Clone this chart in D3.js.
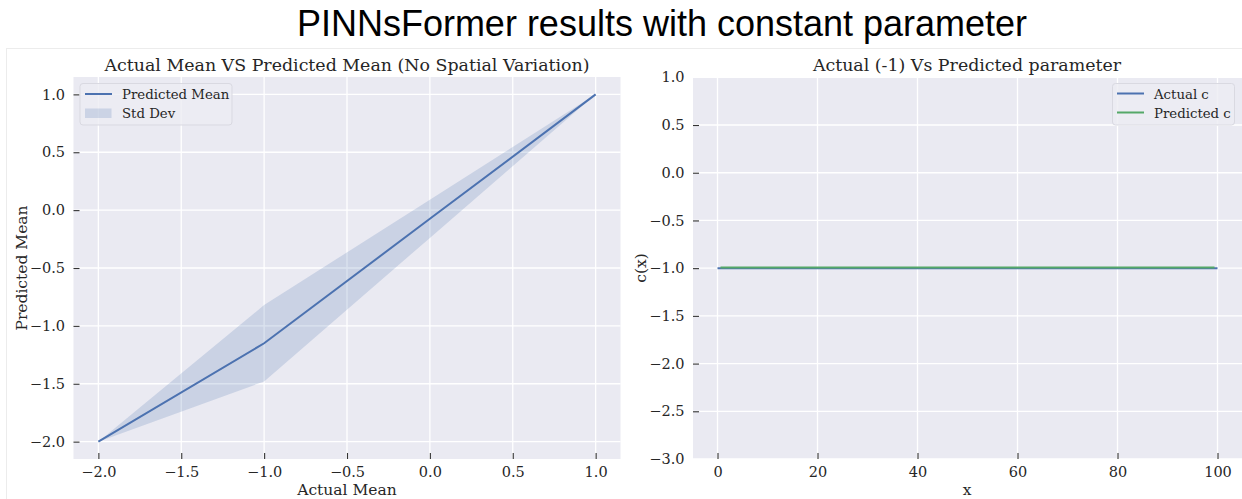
<!DOCTYPE html>
<html>
<head>
<meta charset="utf-8">
<script src="https://cdn.jsdelivr.net/npm/d3@7"></script>
<style>
  html, body { margin: 0; padding: 0; background: #ffffff; }
  svg { display: block; }
  text { font-family: "DejaVu Serif", serif; fill: #262626; }
</style>
</head>
<body>
<script>
// Mean / std comparison (left panel)
const actualMean = [-2.0, -1.0, 0.0, 1.0];
const predictedMean = [-2.0, -1.15, -0.075, 1.0];
const predictedStd = [0.0, 0.33, 0.165, 0.0];
const meanTicks = [-2.0, -1.5, -1.0, -0.5, 0.0, 0.5, 1.0];

// Parameter recovery (right panel)
const xActual = [0, 100];
const cActual = [-1.0, -1.0];
const xPredicted = [0.6, 99.4];
const cPredicted = [-0.992, -0.992];
const xTicks = [0, 20, 40, 60, 80, 100];
const cTicks = [1.0, 0.5, 0.0, -0.5, -1.0, -1.5, -2.0, -2.5, -3.0];

const W = 1242, H = 499;
const BG = "#eaeaf2", BLUE = "#4c72b0", GREEN = "#55a868";
const fmt = d => d3.format(".1f")(d).replace("-", "\u2212");

const svg = d3.select("body").append("svg").attr("width", W).attr("height", H);

// figure frame
svg.append("rect").attr("x", 6.5).attr("y", 48.5).attr("width", W).attr("height", H)
  .attr("fill", "none").attr("stroke", "#ececec");

svg.append("text").attr("x", 662).attr("y", 36).attr("text-anchor", "middle")
  .style("font-family", "'Liberation Sans', Arial, sans-serif")
  .style("font-size", "36px").style("fill", "#000")
  .text("PINNsFormer results with constant parameter");

function panel(box, x, y, xt, yt, xf, yf, opts) {
  const g = svg.append("g");
  g.append("rect").attr("x", box.l).attr("y", box.t)
    .attr("width", box.r - box.l).attr("height", box.b - box.t).attr("fill", BG);
  // grid
  g.selectAll(".gx").data(xt).join("line")
    .attr("x1", d => x(d)).attr("x2", d => x(d)).attr("y1", box.t).attr("y2", box.b)
    .attr("stroke", "#fff").attr("stroke-width", 1.3);
  g.selectAll(".gy").data(yt).join("line")
    .attr("y1", d => y(d)).attr("y2", d => y(d)).attr("x1", box.l).attr("x2", box.r)
    .attr("stroke", "#fff").attr("stroke-width", 1.3);
  // axes (ticks pointing inward)
  const ax = g.append("g").attr("transform", `translate(0,${box.b})`)
    .call(d3.axisBottom(x).tickValues(xt).tickFormat(xf).tickSize(-6).tickPadding(8));
  const ay = g.append("g").attr("transform", `translate(${box.l},0)`)
    .call(d3.axisLeft(y).tickValues(yt).tickFormat(yf).tickSize(-6).tickPadding(8.5));
  [ax, ay].forEach(a => {
    a.select(".domain").remove();
    a.selectAll(".tick line").attr("stroke", "#333").attr("stroke-width", 1.1);
    a.selectAll(".tick text").style("font-family", "'DejaVu Serif', serif")
      .style("font-size", "14.5px").attr("fill", "#262626");
  });
  if (opts && opts.hideEndY) {
    const [lo, hi] = y.domain();
    ay.selectAll(".tick line").filter(d => d === lo || d === hi).remove();
  }
  return g;
}

// ---------- left panel ----------
const L = {l: 73.5, r: 620.5, t: 77, b: 459};
const x1 = d3.scaleLinear().domain([-2.15, 1.15]).range([L.l, L.r]);
const y1 = d3.scaleLinear().domain([-2.15, 1.15]).range([L.b, L.t]);
const g1 = panel(L, x1, y1, meanTicks, meanTicks, fmt, fmt);

const rows = actualMean.map((a, i) => ({a, m: predictedMean[i], s: predictedStd[i]}));
g1.append("path").datum(rows)
  .attr("d", d3.area().x(d => x1(d.a)).y0(d => y1(d.m - d.s)).y1(d => y1(d.m + d.s)))
  .attr("fill", BLUE).attr("fill-opacity", 0.2);
g1.append("path").datum(rows)
  .attr("d", d3.line().x(d => x1(d.a)).y(d => y1(d.m)))
  .attr("fill", "none").attr("stroke", BLUE).attr("stroke-width", 2);

svg.append("text").attr("x", 347).attr("y", 70.5).attr("text-anchor", "middle")
  .style("font-size", "17.4px").text("Actual Mean VS Predicted Mean (No Spatial Variation)");
svg.append("text").attr("x", 347).attr("y", 495).attr("text-anchor", "middle")
  .style("font-size", "15.5px").text("Actual Mean");
svg.append("text").attr("transform", "translate(26.5,268) rotate(-90)").attr("text-anchor", "middle")
  .style("font-size", "15.5px").text("Predicted Mean");

// legend (left)
const lg1 = svg.append("g");
lg1.append("rect").attr("x", 80).attr("y", 83.5).attr("width", 152).attr("height", 41.5).attr("rx", 3)
  .attr("fill", "#ececf3").attr("fill-opacity", 0.8).attr("stroke", "#d9d9e1");
lg1.append("line").attr("x1", 85).attr("x2", 112).attr("y1", 94).attr("y2", 94)
  .attr("stroke", BLUE).attr("stroke-width", 2);
lg1.append("rect").attr("x", 85).attr("y", 108.5).attr("width", 26.5).attr("height", 9.5)
  .attr("fill", BLUE).attr("fill-opacity", 0.2);
lg1.append("text").attr("x", 122).attr("y", 98.5).style("font-size", "13.3px").text("Predicted Mean");
lg1.append("text").attr("x", 122).attr("y", 117.5).style("font-size", "13.3px").text("Std Dev");

// ---------- right panel ----------
const R = {l: 693, r: 1243, t: 77.3, b: 459};
const x2 = d3.scaleLinear().domain([-5, 105]).range([692.5, 1242.5]);
const y2 = d3.scaleLinear().domain([-3, 1]).range([R.b, R.t]);
const g2 = panel(R, x2, y2, xTicks, cTicks, d => d, fmt, {hideEndY: true});

const lineC = d3.line().x(d => x2(d[0])).y(d => y2(d[1]));
g2.append("path").datum(d3.zip(xActual, cActual)).attr("d", lineC)
  .attr("fill", "none").attr("stroke", BLUE).attr("stroke-width", 2);
g2.append("path").datum(d3.zip(xPredicted, cPredicted)).attr("d", lineC)
  .attr("fill", "none").attr("stroke", GREEN).attr("stroke-width", 2);

svg.append("text").attr("x", 967).attr("y", 70.5).attr("text-anchor", "middle")
  .style("font-size", "17.4px").text("Actual (-1) Vs Predicted parameter");
svg.append("text").attr("x", 967).attr("y", 495).attr("text-anchor", "middle")
  .style("font-size", "15.5px").text("x");
svg.append("text").attr("transform", "translate(646,268) rotate(-90)").attr("text-anchor", "middle")
  .style("font-size", "15.5px").text("c(x)");

// legend (right)
const lg2 = svg.append("g");
lg2.append("rect").attr("x", 1112.5).attr("y", 83.5).attr("width", 122).attr("height", 41.5).attr("rx", 3)
  .attr("fill", "#ececf3").attr("fill-opacity", 0.8).attr("stroke", "#d9d9e1");
lg2.append("line").attr("x1", 1117).attr("x2", 1144).attr("y1", 93.5).attr("y2", 93.5)
  .attr("stroke", BLUE).attr("stroke-width", 2);
lg2.append("line").attr("x1", 1117).attr("x2", 1144).attr("y1", 112.5).attr("y2", 112.5)
  .attr("stroke", GREEN).attr("stroke-width", 2);
lg2.append("text").attr("x", 1154).attr("y", 98.5).style("font-size", "13.3px").text("Actual c");
lg2.append("text").attr("x", 1154).attr("y", 117.5).style("font-size", "13.3px").text("Predicted c");
</script>
</body>
</html>
